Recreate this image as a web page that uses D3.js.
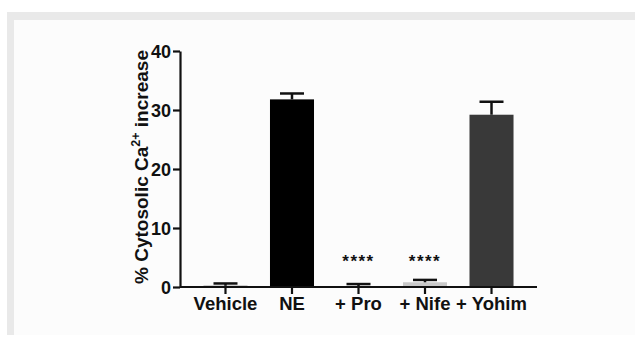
<!DOCTYPE html>
<html>
<head>
<meta charset="utf-8">
<script src="https://cdn.jsdelivr.net/npm/d3@7"></script>
<style>
  body { margin: 0; background: #fff; }
  text { font-family: "Liberation Sans", Arial, sans-serif; font-weight: bold; fill: #111; }
</style>
</head>
<body>
<div id="chart"></div>
<script>
var w = 635;
var h = 337;

var groups = ["Vehicle", "NE", "+ Pro", "+ Nife", "+ Yohim"];
var means = [0.2, 31.8, 0.1, 0.8, 29.2];
var sems = [0.4, 1.0, 0.4, 0.4, 2.2];
var colors = ["#111", "#000", "#111", "#c8c8c8", "#393939"];
var stars = ["", "", "****", "****", ""];
var yTicks = [0, 10, 20, 30, 40];

var svg = d3.select("#chart").append("svg").attr("width", w).attr("height", h);

// panel frame
svg.append("rect").attr("x", 7).attr("y", 12).attr("width", w - 7).attr("height", 323).attr("fill", "#e9e9e9");
svg.append("rect").attr("x", 14).attr("y", 20).attr("width", w - 14).attr("height", 315).attr("fill", "#fcfcfc");

var xScale = d3
  .scaleBand()
  .domain(groups)
  .range([180, 537])
  .paddingInner(0.338)
  .paddingOuter(0.353);

var yScale = d3.scaleLinear().domain([0, 40]).range([287, 51]);

// bars
svg
  .selectAll("rect.bar")
  .data(groups)
  .enter()
  .append("rect")
  .attr("class", "bar")
  .attr("x", function (d) {
    return xScale(d);
  })
  .attr("y", function (d, i) {
    return yScale(means[i]);
  })
  .attr("width", xScale.bandwidth())
  .attr("height", function (d, i) {
    return yScale(0) - yScale(means[i]);
  })
  .attr("fill", function (d, i) {
    return colors[i];
  });

// error bars (upper only)
var err = svg.append("g");
groups.forEach(function (d, i) {
  var cx = xScale(d) + xScale.bandwidth() / 2;
  var top = yScale(means[i] + sems[i]);
  err.append("line")
    .attr("x1", cx).attr("x2", cx)
    .attr("y1", yScale(means[i])).attr("y2", top)
    .attr("stroke", "#111").attr("stroke-width", 2.5);
  err.append("line")
    .attr("x1", cx - 12).attr("x2", cx + 12)
    .attr("y1", top).attr("y2", top)
    .attr("stroke", "#111").attr("stroke-width", 2.5);
});

// significance
svg
  .selectAll("text.star")
  .data(groups)
  .enter()
  .append("text")
  .attr("class", "star")
  .text(function (d, i) {
    return stars[i];
  })
  .attr("x", function (d) {
    return xScale(d) + xScale.bandwidth() / 2;
  })
  .attr("y", 267)
  .attr("text-anchor", "middle")
  .attr("font-size", "17px")
  .attr("letter-spacing", "1.5px");

// axes
var yAxis = svg
  .append("g")
  .attr("transform", "translate(180,0)")
  .call(d3.axisLeft(yScale).tickValues(yTicks).tickSize(7).tickSizeOuter(0).tickPadding(2));

var xAxis = svg
  .append("g")
  .attr("transform", "translate(0,287)")
  .call(d3.axisBottom(xScale).tickSize(7).tickSizeOuter(0).tickPadding(3));

xAxis.select(".domain").attr("d", "M180,0H537");

[yAxis, xAxis].forEach(function (ax) {
  ax.selectAll("path, line").attr("stroke", "#111").attr("stroke-width", 2.2);
  ax.selectAll("text").attr("fill", "#111").attr("font-family", null);
});
yAxis.selectAll("text").attr("font-size", "18px").attr("dy", "0.36em");
xAxis.selectAll("text").attr("font-size", "18.5px");

// y title
var title = svg
  .append("text")
  .attr("transform", "translate(147.5,167) rotate(-90)")
  .attr("text-anchor", "middle")
  .attr("font-size", "19px");
title.append("tspan").text("% Cytosolic Ca");
title.append("tspan").text("2+").attr("font-size", "12.5px").attr("dy", "-8");
title.append("tspan").text(" increase").attr("dy", "8");
</script>
</body>
</html>
